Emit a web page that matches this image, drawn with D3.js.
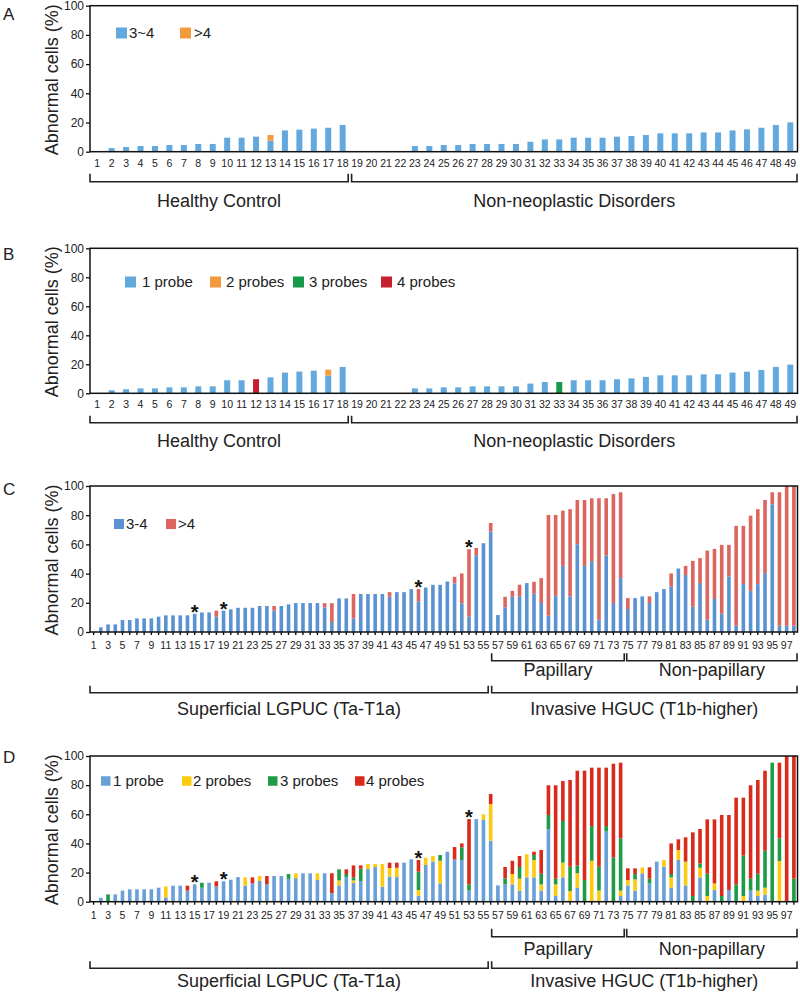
<!DOCTYPE html>
<html><head><meta charset="utf-8">
<script src="https://cdn.jsdelivr.net/npm/d3@7"></script>
<style>
body{margin:0;background:#fff}
svg{display:block}
text{font-family:"Liberation Sans",Arial,Helvetica,sans-serif;fill:#222}
</style>
</head><body>
<svg id="chart" width="800" height="995"></svg>
<script>
// ---------- DATA ----------
const idsAB = d3.range(1, 50);   // case numbers 1..49
const idsCD = d3.range(1, 99);   // case numbers 1..98
const yTicks = [0, 20, 40, 60, 80, 100];

// Panel A: 3~4 and >4
const aLow = [0,2.5,3.2,3.9,3.9,4.6,4.6,5.3,5.3,9.6, 9.6,10.3,7.5,14.6,15.1,15.8,16.4,18.3,0,0,
  0,0,3.9,3.9,4.6,4.6,5.3,5.3,5.3,5.3, 6.8,8.4,8.4,9.6,9.6,9.6,10.3,10.7,11.4,12.6,
  12.6,12.6,13.2,13.2,14.6,15.3,16.4,18.3,20.1];
const aHigh = [0,0,0,0,0,0,0,0,0,0, 0,0,3.9,0,0,0,0,0,0,0, 0,0,0,0,0,0,0,0,0,0,
  0,0,0,0,0,0,0,0,0,0, 0,0,0,0,0,0,0,0,0];

// Panel B: 1,2,3,4 probes
const b1 = [0,2.1,2.8,3.4,3.4,4.1,4.1,4.8,4.8,9.0, 9.0,0,11.0,14.3,15.0,15.6,12.2,18.2,0,0,
  0,0,3.4,3.4,4.1,4.1,4.8,4.8,4.8,4.8, 6.7,7.8,0,9.0,9.0,9.0,9.7,10.3,11.3,12.4,
  12.4,12.4,13.1,13.1,14.3,14.9,16.1,18.2,19.8];
const b2 = [0,0,0,0,0,0,0,0,0,0, 0,0,0,0,0,0,4.1,0,0,0, 0,0,0,0,0,0,0,0,0,0,
  0,0,0,0,0,0,0,0,0,0, 0,0,0,0,0,0,0,0,0];
const b3 = [0,0,0,0,0,0,0,0,0,0, 0,0,0,0,0,0,0,0,0,0, 0,0,0,0,0,0,0,0,0,0,
  0,0,7.8,0,0,0,0,0,0,0, 0,0,0,0,0,0,0,0,0];
const b4 = [0,0,0,0,0,0,0,0,0,0, 0,9.7,0,0,0,0,0,0,0,0, 0,0,0,0,0,0,0,0,0,0,
  0,0,0,0,0,0,0,0,0,0, 0,0,0,0,0,0,0,0,0];

// Panel C: 3-4 and >4
const c34 = [0,3.2,5.2,5.2,8.2,8.2,9.3,9.3,9.3,10.5,
  11.4,11.4,11.4,11.4,12.5,13.4,13.4,10.5,14.6,15.5,
  16.6,16.6,16.6,17.8,17.8,14.6,17.8,18.9,19.8,19.8,
  19.8,19.8,16.9,6.8,23.0,23.0,9.3,26.0,26.0,26.0,
  26.0,24.1,27.3,27.3,29.4,21.0,30.5,32.3,32.3,34.6,
  33.3,19.6,10.5,52.6,60.8,68.8,11.6,16.9,24.1,24.3,
  33.5,26.2,19.8,11.2,24.8,45.3,24.4,60.1,45.3,48.5,
  8.4,52.4,19.8,36.9,15.7,23.2,24.4,19.8,27.3,29.4,
  31.2,43.5,39.0,17.3,33.5,8.4,22.6,12.5,38.0,4.3,
  32.8,28.2,32.8,40.3,87.5,4.3,4.3,4.3];
const c4 = [0,0,0,0,0,0,0,0,0,0,
  0,0,0,0,0,0,0,4.1,0,0,
  0,0,0,0,0,3.2,0,0,0,0,
  0,0,2.9,13.0,0,0,16.7,0,0,0,
  0,3.2,0,0,0,8.4,0,0,0,0,
  4.5,20.5,46.2,5.0,0,5.9,0,7.2,4.1,8.1,
  0,8.2,17.1,69.0,55.4,37.8,59.7,30.3,45.1,43.1,
  83.2,39.2,74.7,58.8,7.5,0,0,4.6,0,0,
  8.9,0,6.3,31.4,17.1,47.4,34.3,47.2,21.7,68.4,
  39.9,51.5,51.3,50.1,8.2,91.4,95.7,95.7];

// Panel D: 1,2,3,4 probes
const d1 = [0,2.7,0,5.0,7.6,8.5,8.5,8.5,8.5,9.6,
  3.0,11.0,11.0,7.6,11.9,9.6,13.0,10.5,14.0,15.1,
  16.9,11.0,12.6,14.2,11.9,17.6,17.6,15.6,16.2,19.5,
  19.5,14.9,19.5,5.9,11.2,16.7,13.0,14.2,22.4,23.8,
  10.3,17.2,16.9,26.8,29.1,4.1,25.2,27.5,12.6,34.3,
  29.1,28.6,7.6,56.7,56.1,41.9,11.2,11.9,11.9,7.6,
  16.7,16.7,7.6,49.9,3.9,16.7,0,9.6,0,0,
  0,48.1,0,3.9,11.2,7.6,19.5,12.6,27.5,24.0,
  9.6,28.6,11.2,0,16.7,0,8.0,0,8.0,0,
  0,7.6,3.9,4.8,0,0,0,0];
const d2 = [0,0,0,0,0,0,0,0,0,0,
  7.5,0,0,0,0,0,0,0,0,0,
  0,5.7,0,3.4,0,0,0,0,3.3,0,
  0,4.6,0,0,3.4,0,1.6,0,3.5,2.1,
  15.6,5.9,6.4,0,0,3.9,5.0,3.9,15.5,0,
  0,0,0,0,3.9,25.1,0,0,7.1,8.2,
  15.8,11.9,4.3,0,8.0,10.1,7.3,9.9,0,28.1,
  7.6,0,0,3.7,3.7,7.7,4.1,0,0,4.6,
  7.1,6.9,16.3,0,6.6,3.9,4.6,0,0,0,
  3.9,0,3.7,4.8,0,27.9,0,0];
const d3v = [0,0,5.0,0,0,0,0,0,0,0,
  0,0,0,0,0,3.4,0,0,0,0,
  0,0,0,0,0,0,0,3.4,0,0,
  0,0,0,0,7.6,2.3,2.1,8.5,0,0,
  0,0,0,0,0,12.6,0,0,3.9,0,
  0,8.7,4.3,0,0,0,0,4.1,0,8.0,
  0,3.4,7.3,9.6,3.9,28.6,16.7,5.4,14.9,23.8,
  16.4,3.8,30.4,35.9,0,3.7,0,3.2,0,0,
  2.3,0,0,3.9,3.0,15.3,0,3.9,0,11.9,
  27.7,8.2,11.6,25.4,95.4,15.6,0,15.8];
const d4 = [0,0,0,0,0,0,0,0,0,0,
  0,0,0,3.4,0,0,0,3.5,0,0,
  0,0,4.1,0,5.7,0,0,0,0,0,
  0,0,0,13.6,0,3.2,8.2,2.2,0,0,
  0,3.7,3.5,0,0,8.0,0,0,0,0,
  8.4,2.7,44.8,0,0,6.9,0,7.8,9.1,7.6,
  0,2.3,16.3,20.4,64.1,27.4,59.5,65.0,75.0,40.1,
  68.0,40.1,64.3,51.9,8.0,3.9,0,7.8,0,0,
  21.0,7.3,16.7,43.7,23.6,37.3,43.9,55.6,51.5,59.5,
  39.8,64.1,64.3,54.9,0,51.9,100,84.2];

const starCases = [15, 19, 46, 53];

// ---------- DRAW ----------
const svg = d3.select("#chart");
const X0 = 90, X1 = 797.5;

function panel(cfg) {
  const g = svg.append("g");
  const x = d3.scaleBand().domain(cfg.ids).range([X0, X1])
    .paddingInner(cfg.pad).paddingOuter(cfg.pad / 2);
  const step = x.step();
  const y = d3.scaleLinear().domain([0, 100]).range([cfg.bottom, cfg.top]);

  const rows = cfg.ids.map((id, i) => {
    const o = { id };
    cfg.series.forEach(s => o[s.key] = s.values[i]);
    return o;
  });
  const stacked = d3.stack().keys(cfg.series.map(s => s.key))(rows);

  g.append("g").selectAll("g").data(stacked).join("g")
    .attr("fill", (d, i) => cfg.series[i].color)
    .selectAll("rect").data(d => d).join("rect")
    .attr("x", d => x(d.data.id))
    .attr("width", x.bandwidth())
    .attr("y", d => y(d[1]))
    .attr("height", d => Math.max(0, y(d[0]) - y(d[1])));

  // stars
  if (cfg.stars) {
    const totals = new Map(rows.map(r => [r.id, d3.sum(cfg.series, s => r[s.key])]));
    g.selectAll("text.star").data(cfg.stars).join("text")
      .attr("class", "star")
      .attr("x", d => x(d) + x.bandwidth() / 2)
      .attr("y", d => y(totals.get(d)) + 5)
      .attr("text-anchor", "middle")
      .style("font-size", "20px").style("font-weight", "bold").style("fill", "#111")
      .text("*");
  }

  // y axis
  const ya = g.append("g").attr("transform", `translate(${X0},0)`)
    .call(d3.axisLeft(y).tickValues(yTicks).tickSize(4).tickPadding(2));
  ya.select(".domain").remove();
  ya.selectAll("line").attr("stroke", "#111").attr("stroke-width", 1.3);
  ya.selectAll("text").style("font-size", "12px").style("fill", "#222");

  // x axis
  const xa = g.append("g").attr("transform", `translate(0,${cfg.bottom})`)
    .call(d3.axisBottom(x).tickSize(cfg.tickSize).tickPadding(cfg.tickPad)
      .tickFormat(d => (cfg.oddOnly && d % 2 === 0) ? "" : d));
  xa.select(".domain").remove();
  xa.selectAll("line").attr("stroke", "#111").attr("stroke-width", 1.4);
  xa.selectAll("text").style("font-size", "10.5px").style("fill", "#222");

  // frame
  g.append("rect").attr("x", X0).attr("y", cfg.top)
    .attr("width", X1 - X0).attr("height", cfg.bottom - cfg.top)
    .attr("fill", "none").attr("stroke", "#111").attr("stroke-width", 1.5);

  // y title
  g.append("text")
    .attr("transform", `translate(58,${(cfg.top + cfg.bottom) / 2 + 1}) rotate(-90)`)
    .attr("text-anchor", "middle").style("font-size", "18px")
    .text("Abnormal cells (%)");

  // panel letter
  g.append("text").attr("x", 3).attr("y", cfg.letterY)
    .style("font-size", "17px").text(cfg.letter);

  // legend
  cfg.legend.forEach((it, i) => {
    const s = cfg.series[i];
    g.append("rect").attr("x", it.sx).attr("y", cfg.legendY - it.size / 2)
      .attr("width", it.size).attr("height", it.size).attr("fill", s.color);
    g.append("text").attr("x", it.tx).attr("y", cfg.legendY)
      .attr("dy", "0.35em").style("font-size", "15px").text(s.label);
  });

  // brackets
  cfg.brackets.forEach(b => {
    const l = X0 + b.p0 * step + b.g0, r = X0 + b.p1 * step - b.g1;
    g.append("path")
      .attr("d", `M${l},${b.y - b.h}V${b.y}H${r}V${b.y - b.h}`)
      .attr("fill", "none").attr("stroke", "#222").attr("stroke-width", 1.6);
    g.append("text").attr("x", (l + r) / 2).attr("y", b.ly)
      .attr("text-anchor", "middle").style("font-size", "18px").text(b.label);
  });
}

const colAB = { blue: "#63a9de", orange: "#f29a3e", green: "#17994a", red: "#c61f2e" };
const colC = { blue: "#5b92d2", red: "#dc6560" };
const colD = { blue: "#6a9fd8", yellow: "#fccb10", green: "#1f9b48", red: "#d92a1c" };

// Panel A
panel({
  letter: "A", letterY: 20, ids: idsAB, pad: 0.585, top: 5.7, bottom: 151.7,
  tickSize: 0, tickPad: 8, oddOnly: false,
  series: [
    { key: "low", values: aLow, color: colAB.blue, label: "3~4" },
    { key: "high", values: aHigh, color: colAB.orange, label: ">4" }
  ],
  legendY: 33,
  legend: [{ sx: 116, tx: 129, size: 11 }, { sx: 180, tx: 194, size: 11 }],
  brackets: [
    { label: "Healthy Control", p0: 0, p1: 18, g0: 0, g1: 1.7, y: 181.7, h: 8, ly: 207 },
    { label: "Non-neoplastic Disorders", p0: 18, p1: 49, g0: 1.7, g1: 0.5, y: 181.7, h: 8, ly: 207 }
  ]
});

// Panel B
panel({
  letter: "B", letterY: 260, ids: idsAB, pad: 0.585, top: 248.3, bottom: 393.3,
  tickSize: 0, tickPad: 7, oddOnly: false,
  series: [
    { key: "p1", values: b1, color: colAB.blue, label: "1 probe" },
    { key: "p2", values: b2, color: colAB.orange, label: "2 probes" },
    { key: "p3", values: b3, color: colAB.green, label: "3 probes" },
    { key: "p4", values: b4, color: colAB.red, label: "4 probes" }
  ],
  legendY: 282,
  legend: [{ sx: 125, tx: 142, size: 11 }, { sx: 210, tx: 226, size: 11 },
           { sx: 293, tx: 309, size: 11 }, { sx: 381, tx: 397, size: 11 }],
  brackets: [
    { label: "Healthy Control", p0: 0, p1: 18, g0: 0, g1: 1.7, y: 422.7, h: 7, ly: 447 },
    { label: "Non-neoplastic Disorders", p0: 18, p1: 49, g0: 1.7, g1: 0.5, y: 422.7, h: 7, ly: 447 }
  ]
});

// Panel C
panel({
  letter: "C", letterY: 495, ids: idsCD, pad: 0.5, top: 486, bottom: 632,
  tickSize: 3, tickPad: 7, oddOnly: true, stars: starCases,
  series: [
    { key: "s34", values: c34, color: colC.blue, label: "3-4" },
    { key: "s4", values: c4, color: colC.red, label: ">4" }
  ],
  legendY: 524,
  legend: [{ sx: 114, tx: 126, size: 10 }, { sx: 166, tx: 178, size: 10 }],
  brackets: [
    { label: "Papillary", p0: 55.5, p1: 74, g0: 1, g1: 0, y: 660.7, h: 7.5, ly: 676 },
    { label: "Non-papillary", p0: 74, p1: 98, g0: 2.5, g1: 0.5, y: 660.7, h: 7.5, ly: 676 },
    { label: "Superficial LGPUC (Ta-T1a)", p0: 0, p1: 55.5, g0: 0, g1: 2.5, y: 692.7, h: 7, ly: 715 },
    { label: "Invasive HGUC (T1b-higher)", p0: 55.5, p1: 98, g0: 1, g1: 0.5, y: 692.7, h: 7, ly: 715 }
  ]
});

// Panel D
panel({
  letter: "D", letterY: 763, ids: idsCD, pad: 0.5, top: 756, bottom: 901.7,
  tickSize: 3, tickPad: 6.5, oddOnly: true, stars: starCases,
  series: [
    { key: "p1", values: d1, color: colD.blue, label: "1 probe" },
    { key: "p2", values: d2, color: colD.yellow, label: "2 probes" },
    { key: "p3", values: d3v, color: colD.green, label: "3 probes" },
    { key: "p4", values: d4, color: colD.red, label: "4 probes" }
  ],
  legendY: 781,
  legend: [{ sx: 101, tx: 113, size: 9.5 }, { sx: 182, tx: 193, size: 9.5 },
           { sx: 268, tx: 280, size: 9.5 }, { sx: 355, tx: 366, size: 9.5 }],
  brackets: [
    { label: "Papillary", p0: 55.5, p1: 74, g0: 1, g1: 0, y: 936.7, h: 8, ly: 955 },
    { label: "Non-papillary", p0: 74, p1: 98, g0: 2.5, g1: 0.5, y: 936.7, h: 8, ly: 955 },
    { label: "Superficial LGPUC (Ta-T1a)", p0: 0, p1: 55.5, g0: 0, g1: 2.5, y: 968.3, h: 7, ly: 987 },
    { label: "Invasive HGUC (T1b-higher)", p0: 55.5, p1: 98, g0: 1, g1: 0.5, y: 968.3, h: 7, ly: 987 }
  ]
});
</script>
</body></html>
